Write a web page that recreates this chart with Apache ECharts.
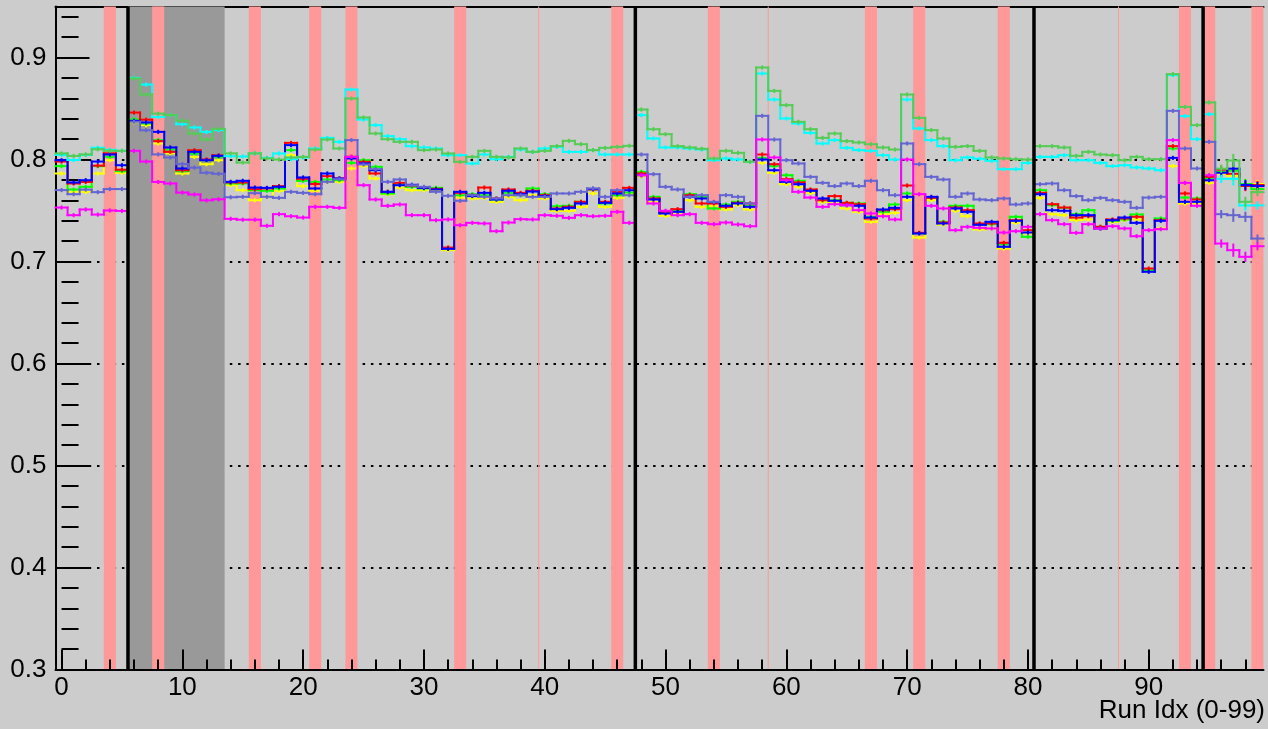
<!DOCTYPE html>
<html>
<head>
<meta charset="utf-8">
<script src="https://cdn.jsdelivr.net/npm/echarts@6/dist/echarts.min.js"></script>
<style>
  html, body { margin: 0; padding: 0; background: #cccccc; }
  #chart { width: 1268px; height: 729px; }
</style>
</head>
<body>
<div id="chart"></div>
<script>
// ---- data ----
const runIdx = Array.from({ length: 100 }, (_, i) => i);

const red = [
  0.798, 0.7765, 0.778, 0.794, 0.806, 0.790, 0.846, 0.839, 0.818, 0.8075,
  0.7895, 0.809, 0.800, 0.804, 0.7775, 0.7775, 0.771, 0.7716, 0.7739, 0.8163,
  0.781, 0.776, 0.7837, 0.7814, 0.8026, 0.7977, 0.7863, 0.7683, 0.7771, 0.7745,
  0.7725, 0.7712, 0.7137, 0.7673, 0.765, 0.7725, 0.7618, 0.7706, 0.7673, 0.7693,
  0.765, 0.752, 0.7536, 0.7585, 0.7706, 0.7585, 0.7683, 0.7722, 0.7863, 0.7618,
  0.7487, 0.7513, 0.765, 0.7569, 0.7569, 0.7536, 0.7575, 0.7569, 0.8049, 0.7954,
  0.7807, 0.7775, 0.7706, 0.7601, 0.7641, 0.7575, 0.7562, 0.7422, 0.7503, 0.7513,
  0.7745, 0.7281, 0.7624, 0.7382, 0.7529, 0.7503, 0.7373, 0.7373, 0.7183, 0.7405,
  0.7307, 0.7673, 0.7562, 0.7529, 0.7431, 0.7444, 0.734, 0.7412, 0.7422, 0.7438,
  0.6931, 0.7405, 0.8131, 0.7667, 0.7608, 0.783, 0.790, 0.786, 0.774, 0.775
];
const green = [
  0.7935, 0.7706, 0.7732, 0.7935, 0.8026, 0.7886, 0.8392, 0.8353, 0.819, 0.8098,
  0.7886, 0.8059, 0.7993, 0.8026, 0.7765, 0.7765, 0.7699, 0.7693, 0.7716, 0.8092,
  0.7791, 0.778, 0.7804, 0.7797, 0.7967, 0.7993, 0.7928, 0.7667, 0.7758, 0.7732,
  0.7716, 0.7722, 0.7127, 0.765, 0.766, 0.765, 0.7608, 0.7673, 0.765, 0.7716,
  0.766, 0.7542, 0.7546, 0.7585, 0.7706, 0.7569, 0.765, 0.7676, 0.7879, 0.7634,
  0.7477, 0.7497, 0.766, 0.7634, 0.752, 0.7559, 0.7585, 0.7546, 0.8016, 0.7935,
  0.7846, 0.7791, 0.7699, 0.7601, 0.7601, 0.7575, 0.7569, 0.7438, 0.7487, 0.7559,
  0.7667, 0.7275, 0.7624, 0.7389, 0.7546, 0.7546, 0.7366, 0.7366, 0.7167, 0.7438,
  0.7242, 0.7699, 0.7552, 0.7526, 0.7464, 0.7503, 0.734, 0.7399, 0.7412, 0.7461,
  0.6915, 0.7422, 0.8108, 0.7627, 0.7618, 0.7814, 0.788, 0.789, 0.776, 0.771
];
const blue = [
  0.7993, 0.7775, 0.7797, 0.798, 0.8049, 0.7944, 0.8379, 0.8363, 0.8271, 0.8118,
  0.7912, 0.8075, 0.7993, 0.8036, 0.7781, 0.7791, 0.7725, 0.7722, 0.7732, 0.8141,
  0.7824, 0.7716, 0.7863, 0.7814, 0.801, 0.7961, 0.7895, 0.7683, 0.7748, 0.7752,
  0.7722, 0.7706, 0.7124, 0.7683, 0.7641, 0.7673, 0.7608, 0.7693, 0.766, 0.7686,
  0.7641, 0.7513, 0.7526, 0.7569, 0.7712, 0.7575, 0.7667, 0.7699, 0.7846, 0.7608,
  0.7471, 0.7487, 0.7634, 0.7618, 0.7582, 0.7546, 0.7569, 0.7536, 0.800, 0.7895,
  0.7781, 0.7758, 0.7693, 0.7618, 0.7595, 0.7552, 0.7546, 0.7431, 0.751, 0.7526,
  0.7634, 0.7275, 0.7634, 0.7373, 0.752, 0.7487, 0.7359, 0.7389, 0.7144, 0.7399,
  0.7284, 0.766, 0.7503, 0.7497, 0.7454, 0.7454, 0.7324, 0.7405, 0.7431, 0.7379,
  0.6899, 0.7399, 0.8016, 0.7585, 0.7585, 0.7797, 0.787, 0.791, 0.775, 0.774
];
const yellow = [
  0.7863, 0.7683, 0.7683, 0.7863, 0.7993, 0.7869, 0.8366, 0.8337, 0.8157, 0.8059,
  0.7863, 0.8026, 0.7954, 0.7993, 0.7748, 0.7699, 0.7601, 0.7634, 0.7693, 0.8042,
  0.7739, 0.7693, 0.7781, 0.7781, 0.7912, 0.7935, 0.7814, 0.766, 0.7725, 0.7699,
  0.7699, 0.769, 0.7111, 0.7627, 0.7618, 0.7624, 0.7585, 0.7634, 0.7601, 0.765,
  0.7618, 0.7497, 0.7497, 0.7536, 0.7667, 0.7536, 0.7624, 0.766, 0.7837, 0.7585,
  0.7448, 0.7464, 0.7601, 0.7536, 0.7546, 0.751, 0.7552, 0.751, 0.7967, 0.7869,
  0.7758, 0.7732, 0.7673, 0.7585, 0.7569, 0.752, 0.7487, 0.7389, 0.7464, 0.7477,
  0.7601, 0.7235, 0.7601, 0.7363, 0.7497, 0.7444, 0.7314, 0.7324, 0.7127, 0.7379,
  0.7275, 0.7624, 0.7464, 0.7454, 0.7405, 0.7412, 0.733, 0.7389, 0.7405, 0.7412,
  0.6915, 0.7324, 0.7935, 0.7569, 0.7569, 0.7771, 0.786, 0.784, 0.776, 0.776
];
const cyan = [
  0.8045, 0.7995, 0.8045, 0.8115, 0.8095, 0.8085, 0.880, 0.8735, 0.8418, 0.8435,
  0.8346, 0.8314, 0.827, 0.8288, 0.8033, 0.803, 0.806, 0.8016, 0.8059, 0.8003,
  0.802, 0.8108, 0.8212, 0.8173, 0.8686, 0.8392, 0.8337, 0.8229, 0.8199, 0.8131,
  0.8118, 0.8108, 0.8042, 0.8042, 0.7961, 0.8049, 0.8003, 0.8026, 0.8098, 0.8075,
  0.8108, 0.8124, 0.8075, 0.8075, 0.8092, 0.8049, 0.8049, 0.8049, 0.8435, 0.8206,
  0.8118, 0.8118, 0.8108, 0.8098, 0.7993, 0.801, 0.800, 0.7977, 0.8843, 0.8588,
  0.8402, 0.8353, 0.8261, 0.8157, 0.819, 0.8114, 0.8092, 0.8085, 0.8042, 0.800,
  0.8588, 0.8304, 0.819, 0.8131, 0.7993, 0.802, 0.8007, 0.7987, 0.7905, 0.7905,
  0.7967, 0.8026, 0.8026, 0.8042, 0.7993, 0.7993, 0.7967, 0.7935, 0.7944, 0.7922,
  0.7912, 0.7895, 0.8827, 0.8425, 0.8199, 0.8444, 0.781, 0.781, 0.755, 0.755
];
const midGreen = [
  0.806, 0.8035, 0.805, 0.810, 0.8085, 0.8085, 0.8794, 0.8637, 0.845, 0.8435,
  0.838, 0.8255, 0.8196, 0.830, 0.806, 0.797, 0.806, 0.801, 0.800, 0.802,
  0.8026, 0.8098, 0.8196, 0.8108, 0.8598, 0.8412, 0.8255, 0.8199, 0.8173, 0.8173,
  0.8092, 0.8098, 0.8059, 0.7977, 0.8026, 0.8085, 0.8026, 0.802, 0.8108, 0.8075,
  0.8085, 0.8131, 0.8183, 0.815, 0.8092, 0.8114, 0.8124, 0.8134, 0.849, 0.8297,
  0.8248, 0.8131, 0.8118, 0.8105, 0.801, 0.8085, 0.8065, 0.7977, 0.8902, 0.8673,
  0.8533, 0.8369, 0.8297, 0.8212, 0.8255, 0.818, 0.8167, 0.815, 0.8118, 0.8098,
  0.8637, 0.8408, 0.8288, 0.8206, 0.8124, 0.8131, 0.8085, 0.802, 0.801, 0.8003,
  0.800, 0.8131, 0.8131, 0.8118, 0.8036, 0.8075, 0.8049, 0.8042, 0.7993, 0.8026,
  0.8003, 0.8003, 0.8837, 0.8516, 0.8337, 0.8559, 0.791, 0.799, 0.7585, 0.768
];
const slate = [
  0.770, 0.766, 0.7705, 0.768, 0.771, 0.771, 0.837, 0.8287, 0.805, 0.802,
  0.7955, 0.792, 0.787, 0.786, 0.763, 0.7634, 0.767, 0.7634, 0.7624, 0.7683,
  0.7673, 0.766, 0.7781, 0.7807, 0.819, 0.7951, 0.7905, 0.7781, 0.7804, 0.7748,
  0.7732, 0.7683, 0.7644, 0.7595, 0.765, 0.7634, 0.7618, 0.765, 0.765, 0.7634,
  0.7634, 0.7667, 0.7667, 0.7683, 0.7716, 0.7634, 0.7699, 0.765, 0.8049, 0.7856,
  0.7732, 0.7706, 0.7634, 0.765, 0.7585, 0.765, 0.7634, 0.7569, 0.8428, 0.8196,
  0.7993, 0.7961, 0.783, 0.7771, 0.7739, 0.7765, 0.7739, 0.7791, 0.7699, 0.765,
  0.8157, 0.7954, 0.783, 0.7804, 0.7634, 0.7667, 0.7608, 0.7601, 0.7618, 0.7559,
  0.7569, 0.7758, 0.7765, 0.7699, 0.7641, 0.7601, 0.7624, 0.7601, 0.7585, 0.7526,
  0.7627, 0.7634, 0.8477, 0.8108, 0.7912, 0.8173, 0.7464, 0.7454, 0.7438, 0.7225
];
const magenta = [
  0.7529, 0.7454, 0.751, 0.746, 0.750, 0.7496, 0.8085, 0.798, 0.778, 0.7765,
  0.7676, 0.7657, 0.760, 0.761, 0.7418, 0.741, 0.741, 0.735, 0.7464, 0.7444,
  0.7431, 0.7536, 0.7536, 0.7526, 0.8026, 0.7748, 0.7608, 0.7546, 0.7559, 0.7454,
  0.7454, 0.7405, 0.7412, 0.7356, 0.7379, 0.7373, 0.7297, 0.7382, 0.7415, 0.7412,
  0.7454, 0.7448, 0.7428, 0.7454, 0.7444, 0.7448, 0.7487, 0.7379, 0.7846, 0.7569,
  0.7497, 0.7454, 0.7464, 0.7379, 0.7366, 0.7382, 0.7363, 0.7346, 0.8196, 0.802,
  0.7797, 0.7683, 0.7627, 0.7536, 0.7562, 0.7552, 0.7503, 0.7471, 0.7444, 0.7412,
  0.800, 0.766, 0.7546, 0.752, 0.7307, 0.734, 0.733, 0.7324, 0.7284, 0.7297,
  0.734, 0.7464, 0.7405, 0.7366, 0.7281, 0.7366, 0.7324, 0.7346, 0.7324, 0.7248,
  0.7307, 0.7317, 0.819, 0.7771, 0.7546, 0.7846, 0.7176, 0.7111, 0.7046, 0.715
];
// per-run error bar half-size (shared by all series)
const runErr = [
  0.002, 0.002, 0.002, 0.002, 0.002, 0.002, 0.002, 0.002, 0.002, 0.002,
  0.002, 0.002, 0.002, 0.002, 0.002, 0.002, 0.002, 0.002, 0.002, 0.002,
  0.002, 0.002, 0.002, 0.002, 0.002, 0.002, 0.002, 0.002, 0.002, 0.002,
  0.002, 0.002, 0.002, 0.002, 0.002, 0.002, 0.002, 0.002, 0.002, 0.002,
  0.002, 0.002, 0.002, 0.002, 0.002, 0.002, 0.002, 0.002, 0.002, 0.002,
  0.002, 0.002, 0.002, 0.002, 0.002, 0.002, 0.002, 0.002, 0.002, 0.002,
  0.002, 0.002, 0.002, 0.002, 0.002, 0.002, 0.002, 0.002, 0.002, 0.002,
  0.002, 0.002, 0.002, 0.002, 0.002, 0.002, 0.002, 0.002, 0.002, 0.002,
  0.002, 0.002, 0.002, 0.002, 0.002, 0.002, 0.002, 0.002, 0.002, 0.002,
  0.002, 0.002, 0.002, 0.002, 0.002, 0.002, 0.004, 0.0065, 0.005, 0.004
];

// marked runs
const badRuns = [4, 8, 16, 21, 24, 33, 46, 54, 67, 71, 78, 93, 95, 99];
const thinMarks = [39.5, 58.5, 87.5];
const boundaries = [5.5, 47.5, 80.5, 94.5];
const shadedRange = [[5.5, 13.5]];

// axis ticks / labels
const xMajor = [0, 10, 20, 30, 40, 50, 60, 70, 80, 90];
const xMinor = [2, 4, 6, 8, 12, 14, 16, 18, 22, 24, 26, 28, 32, 34, 36, 38, 42, 44, 46, 48,
  52, 54, 56, 58, 62, 64, 66, 68, 72, 74, 76, 78, 82, 84, 86, 88, 92, 94, 96, 98];
const yMajor = [0.3, 0.4, 0.5, 0.6, 0.7, 0.8, 0.9];
const yMinor = [0.32, 0.34, 0.36, 0.38, 0.42, 0.44, 0.46, 0.48, 0.52, 0.54, 0.56, 0.58,
  0.62, 0.64, 0.66, 0.68, 0.72, 0.74, 0.76, 0.78, 0.82, 0.84, 0.86, 0.88, 0.92, 0.94];

const X_MIN = -0.5, X_MAX = 99.5, Y_MIN = 0.3, Y_MAX = 0.95;
const FONT = 'Liberation Sans, Arial, Helvetica, sans-serif';

// ---- series builders ----
function stepSeries(name, color, vals) {
  return {
    type: 'custom', name: name, z: 3,
    encode: { x: 0, y: 1 },
    data: vals.map((v, i) => [runIdx[i], v, i > 0 ? vals[i - 1] : v, runErr[i]]),
    renderItem: function (params, api) {
      const i = api.value(0), v = api.value(1), p = api.value(2), e = api.value(3);
      const a = api.coord([i - 0.5, v]);
      const b = api.coord([i + 0.5, v]);
      const q = api.coord([i - 0.5, p]);
      const eh = api.coord([i, v + e]);
      const el = api.coord([i, v - e]);
      const cx = (a[0] + b[0]) / 2;
      const st = { stroke: color, lineWidth: 2, lineCap: 'square' };
      return {
        type: 'group',
        children: [
          { type: 'line', shape: { x1: q[0], y1: q[1], x2: a[0], y2: a[1] }, style: st },
          { type: 'line', shape: { x1: a[0], y1: a[1], x2: b[0], y2: b[1] }, style: st },
          { type: 'line', shape: { x1: cx, y1: eh[1], x2: cx, y2: el[1] }, style: { stroke: color, lineWidth: 2 } }
        ]
      };
    }
  };
}

function vBandSeries(name, items, color, z) {
  return {
    type: 'custom', name: name, z: z, silent: true,
    encode: { x: 0, y: 2 },
    data: items.map(d => [d[0], d[1], Y_MIN]),
    renderItem: function (params, api) {
      const cs = params.coordSys;
      const x0 = api.coord([api.value(0), Y_MIN])[0];
      const x1 = api.coord([api.value(1), Y_MIN])[0];
      return { type: 'rect', shape: { x: x0, y: cs.y, width: Math.max(x1 - x0, 1), height: cs.height },
               style: { fill: color } };
    }
  };
}

function vLineSeries(name, xs, color, width, z) {
  return {
    type: 'custom', name: name, z: z, silent: true,
    encode: { x: 0, y: 1 },
    data: xs.map(x => [x, Y_MIN]),
    renderItem: function (params, api) {
      const cs = params.coordSys;
      const x = api.coord([api.value(0), Y_MIN])[0];
      return { type: 'line', shape: { x1: x, y1: cs.y, x2: x, y2: cs.y + cs.height },
               style: { stroke: color, lineWidth: width } };
    }
  };
}

const chart = echarts.init(document.getElementById('chart'), null, { renderer: 'canvas' });
chart.setOption({
  backgroundColor: '#cccccc',
  animation: false,
  grid: { left: 55.5, right: 4.5, top: 6.5, bottom: 59.5, show: false },
  xAxis: [
    {
      type: 'value', min: X_MIN, max: X_MAX, position: 'bottom', z: 10,
      axisLine: { show: true, onZero: false, lineStyle: { color: '#000', width: 2 } },
      axisTick: { show: true, inside: true, length: 20, customValues: xMajor, lineStyle: { color: '#000', width: 2 } },
      axisLabel: { show: true, customValues: xMajor, fontSize: 26, color: '#000', margin: 5, fontFamily: FONT },
      splitLine: { show: false }
    },
    {
      type: 'value', min: X_MIN, max: X_MAX, position: 'bottom', z: 10,
      axisLine: { show: false },
      axisTick: { show: true, inside: true, length: 10, customValues: xMinor, lineStyle: { color: '#000', width: 2 } },
      axisLabel: { show: false },
      splitLine: { show: false }
    },
    {
      type: 'value', min: X_MIN, max: X_MAX, position: 'top', z: 0,
      axisLine: { show: true, onZero: false, lineStyle: { color: '#000', width: 2 } },
      axisTick: { show: false }, axisLabel: { show: false }, splitLine: { show: false }
    }
  ],
  yAxis: [
    {
      type: 'value', min: Y_MIN, max: Y_MAX, interval: 0.1, position: 'left', z: 0,
      axisLine: { show: true, onZero: false, lineStyle: { color: '#000', width: 2 } },
      axisTick: { show: true, inside: true, length: 34, customValues: yMajor, lineStyle: { color: '#000', width: 2 } },
      axisLabel: { show: true, customValues: yMajor, formatter: v => v.toFixed(1), fontSize: 26, color: '#000', margin: 9, fontFamily: FONT },
      splitLine: { show: true, showMinLine: false, showMaxLine: false, lineStyle: { color: '#000', width: 2, type: [2.5, 5.8] } }
    },
    {
      type: 'value', min: Y_MIN, max: Y_MAX, position: 'left', z: 0,
      axisLine: { show: false },
      axisTick: { show: true, inside: true, length: 17, customValues: yMinor, lineStyle: { color: '#000', width: 2 } },
      axisLabel: { show: false },
      splitLine: { show: false }
    }
  ],
  graphic: [
    { type: 'text', right: 3, top: 698, style: { text: 'Run Idx (0-99)', font: '26px ' + FONT, fill: '#000' } }
  ],
  series: [
    vBandSeries('shaded', shadedRange, '#999999', 1),
    vBandSeries('bad runs', badRuns.map(b => [b - 0.5, b + 0.5]), '#ff9999', 1),
    vLineSeries('marks', thinMarks, '#ff9999', 1, 1),
    stepSeries('yellow', '#ffff00', yellow),
    stepSeries('green', '#00ff00', green),
    stepSeries('red', '#ff0000', red),
    stepSeries('blue', '#0000ff', blue),
    stepSeries('cyan', '#00ffff', cyan),
    stepSeries('midGreen', '#55cc55', midGreen),
    stepSeries('slate', '#6464d2', slate),
    stepSeries('magenta', '#ff00ff', magenta),
    vLineSeries('boundaries', boundaries, '#000000', 3.5, 5)
  ]
});
</script>
</body>
</html>
